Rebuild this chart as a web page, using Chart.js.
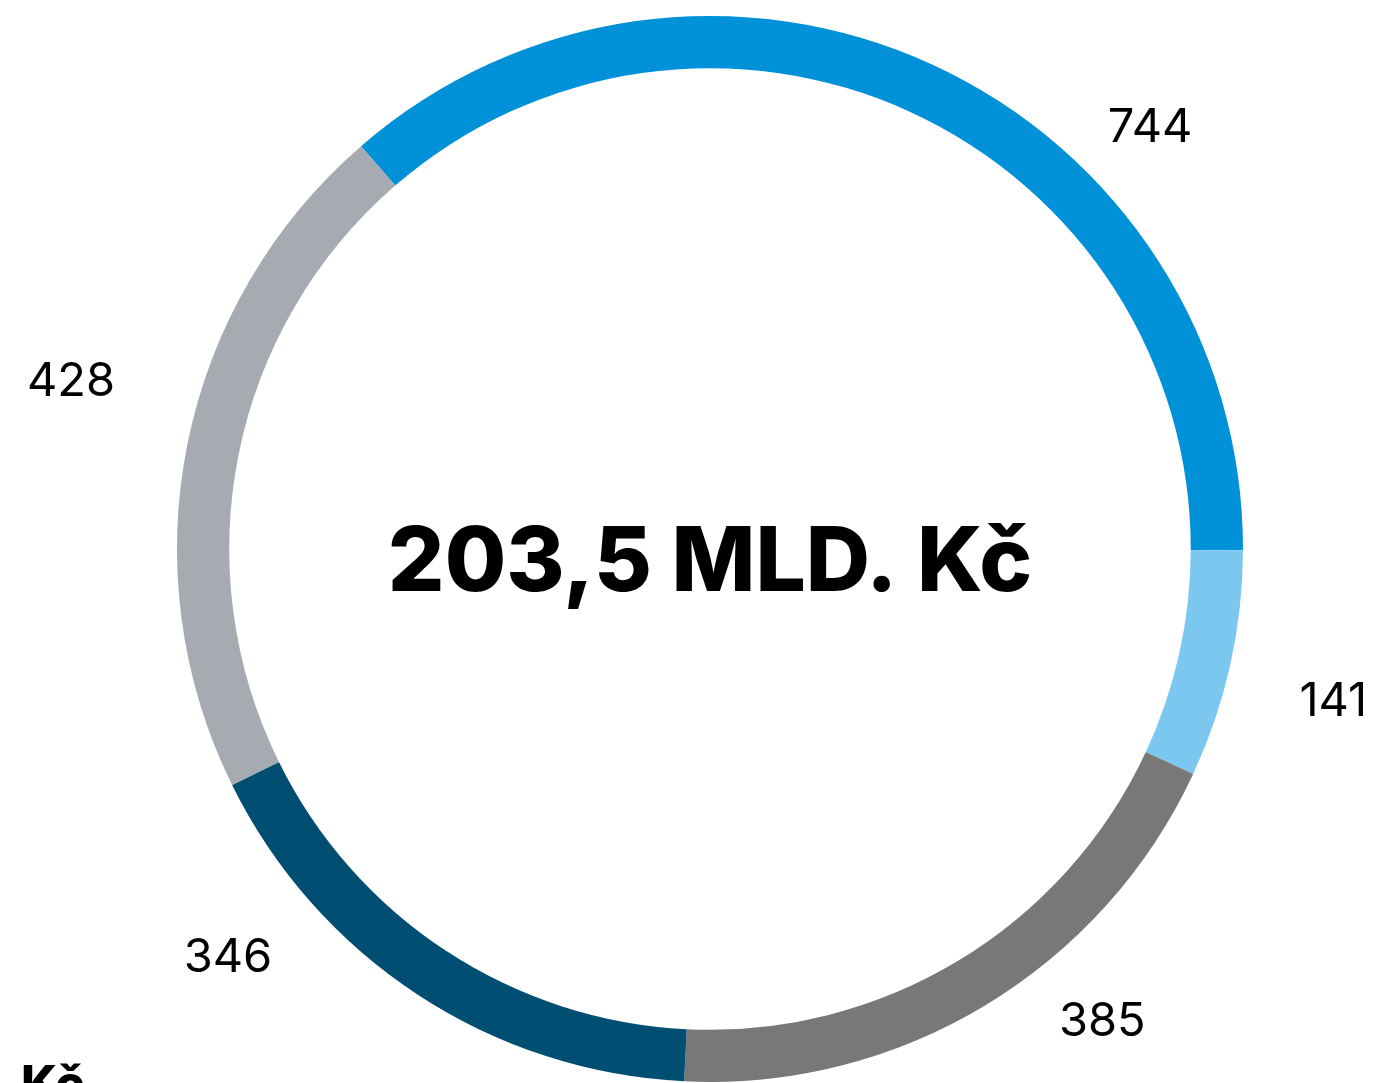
<!DOCTYPE html>
<html>
<head>
<meta charset="utf-8">
<script src="https://cdn.jsdelivr.net/npm/chart.js@4.4.1/dist/chart.umd.min.js"></script>
<style>
  html, body { margin: 0; padding: 0; background: #fff; overflow: hidden; }
  #wrap { position: absolute; left: 0; top: 0; width: 1378px; height: 1083px; }
</style>
</head>
<body>
<div id="wrap"><canvas id="myChart"></canvas></div>
<script>
const segments = ['A', 'B', 'C', 'D', 'E'];
const values = [744, 141, 385, 346, 428];
const colors = ['#0091d8', '#7bc7ef', '#787877', '#004f73', '#a5abb0'];
const totalText = '203,5 MLD. Kč';
const unitText = 'Kč';

// where each value label sits: angle clockwise from top (deg) and distance as a multiple of the outer radius
const labelSpots = [
    { angle: 46.1, dist: 1.146 },
    { angle: 103.6, dist: 1.203 },
    { angle: 140.2, dist: 1.150 },
    { angle: 229.8, dist: 1.184 },
    { angle: 284.8, dist: 1.240 }
];

const fontFace = 'Inter, Lato, "DejaVu Sans", sans-serif';

const textPlugin = {
    id: 'ringText',
    afterDraw(chart) {
        const ctx = chart.ctx;
        const arc = chart.getDatasetMeta(0).data[0];
        const cx = arc.x, cy = arc.y, r = arc.outerRadius;

        ctx.save();
        ctx.fillStyle = '#000';
        ctx.textAlign = 'center';
        ctx.textBaseline = 'middle';

        // value labels around the ring
        ctx.font = '400 47px ' + fontFace;
        values.forEach((v, i) => {
            const a = labelSpots[i].angle * Math.PI / 180;
            const d = labelSpots[i].dist * r;
            ctx.fillText(String(v), cx + Math.sin(a) * d, cy - Math.cos(a) * d + 2);
        });

        // total in the middle
        ctx.font = '800 89px ' + fontFace;
        ctx.textBaseline = 'alphabetic';
        ctx.fillText(totalText, cx, cy + 42);

        // unit line running off the bottom
        ctx.textAlign = 'left';
        ctx.textBaseline = 'top';
        ctx.font = '800 49px ' + fontFace;
        ctx.fillText(unitText, 21, 1062);
        ctx.restore();
    }
};

const ctx = document.getElementById('myChart').getContext('2d');
const myChart = new Chart(ctx, {
    type: 'doughnut',
    data: {
        labels: segments,
        datasets: [{
            data: values,
            backgroundColor: colors,
            borderWidth: 0,
            hoverOffset: 0
        }]
    },
    options: {
        responsive: true,
        maintainAspectRatio: false,
        animation: false,
        rotation: -40.9,
        cutout: '90.2%',
        layout: {
            padding: { left: 176, right: 134, top: 16, bottom: 1 }
        },
        plugins: {
            legend: { display: false },
            tooltip: { enabled: false }
        }
    },
    plugins: [textPlugin]
});
</script>
</body>
</html>
